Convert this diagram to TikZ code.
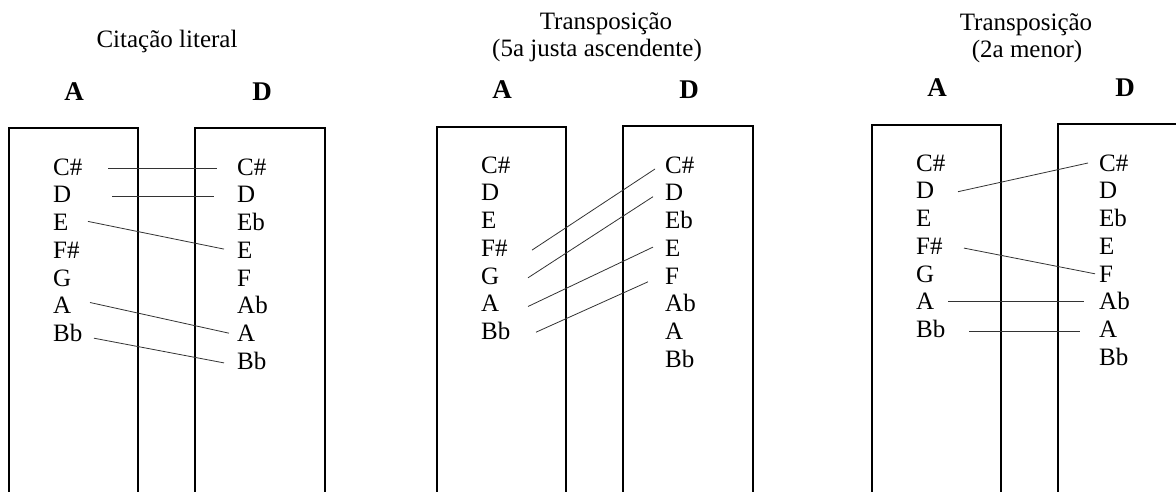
\documentclass[tikz,border=0pt]{standalone}
\usepackage{fontspec}
\setmainfont{Liberation Serif}
\usetikzlibrary{calc}
\begin{document}
\begin{tikzpicture}[x=1pt,y=-1pt,
  frame/.style={line width=2.3pt, line join=miter},
  note/.style={font=\fontsize{25}{28}\selectfont, inner sep=0pt, text height=16.5pt, text depth=0pt, anchor=west},
  head/.style={font=\fontsize{27}{30}\selectfont\bfseries, inner sep=0pt, anchor=base},
  title/.style={font=\fontsize{25}{27}\selectfont, inner sep=0pt, anchor=base},
  link/.style={line width=0.8pt, black!80}]
\clip (0,0) rectangle (1176,492);
\fill[white] (0,0) rectangle (1176,492);

% ---------- titles ----------
\node[title] (t1)  at (167,48)  {Citação literal};
\node[title] (t2a) at (606,30)  {Transposição};
\node[title] (t2b) at (597,57)  {(5a justa ascendente)};
\node[title] (t3a) at (1026,31) {Transposição};
\node[title] (t3b) at (1027,58) {(2a menor)};

% ---------- column heads ----------
\node[head] (h1a) at (74,101)   {A};
\node[head] (h1d) at (262,101)  {D};
\node[head] (h2a) at (502,99)   {A};
\node[head] (h2d) at (689,99)   {D};
\node[head] (h3a) at (937,97)   {A};
\node[head] (h3d) at (1125,97)  {D};

% ---------- open-bottomed columns ----------
\draw[frame] (9,500)    -- (9,128)    -- (138,128)  -- (138,500);
\draw[frame] (195,500)  -- (195,128)  -- (325,128)  -- (325,500);
\draw[frame] (437,500)  -- (437,127)  -- (566,127)  -- (566,500);
\draw[frame] (623,500)  -- (623,126)  -- (753,126)  -- (753,500);
\draw[frame] (872,500)  -- (872,125)  -- (1001,125) -- (1001,500);
\draw[frame] (1058,500) -- (1058,124) -- (1188,124) -- (1188,500);

% ---------- note columns ----------
\foreach \p/\xl/\xr/\y in {1/53/237/167, 2/481/665/165, 3/916/1099/163} {
  \foreach \n [count=\i from 0] in {C\#,D,E,F\#,G,A,Bb}
    \node[note] (p\p l\i) at (\xl,\y+27.7*\i) {\n};
  \foreach \n [count=\i from 0] in {C\#,D,Eb,E,F,Ab,A,Bb}
    \node[note] (p\p r\i) at (\xr,\y+27.7*\i) {\n};
}

% ---------- literal quotation ----------
\draw[link] ($(p1l0.west)+(55,1)$) -- ($(p1r0.west)+(-20,1)$);
\draw[link] ($(p1l1.west)+(59,2)$) -- ($(p1r1.west)+(-23,2)$);
\draw[link] ($(p1l2.west)+(35,-1)$) -- ($(p1r3.west)+(-13,-1)$);
\draw[link] ($(p1l5.west)+(37,-3)$) -- ($(p1r6.west)+(-8,0)$);
\draw[link] ($(p1l6.west)+(41,5)$) -- ($(p1r7.west)+(-13,2)$);

% ---------- perfect fifth up ----------
\draw[link] ($(p2l3.west)+(51,2)$) -- ($(p2r0.west)+(-10,4)$);
\draw[link] ($(p2l4.west)+(47,2)$) -- ($(p2r1.west)+(-12,4)$);
\draw[link] ($(p2l5.west)+(47,3)$) -- ($(p2r3.west)+(-12,-1)$);
\draw[link] ($(p2l6.west)+(55,1)$) -- ($(p2r4.west)+(-17,6)$);

% ---------- minor second ----------
\draw[link] ($(p3l1.west)+(42,1)$) -- ($(p3r0.west)+(-11,0)$);
\draw[link] ($(p3l3.west)+(48,2)$) -- ($(p3r4.west)+(-4,0)$);
\draw[link] ($(p3l5.west)+(32,0)$) -- ($(p3r5.west)+(-15,0)$);
\draw[link] ($(p3l6.west)+(53,2)$) -- ($(p3r6.west)+(-19,2)$);
\end{tikzpicture}
\end{document}
